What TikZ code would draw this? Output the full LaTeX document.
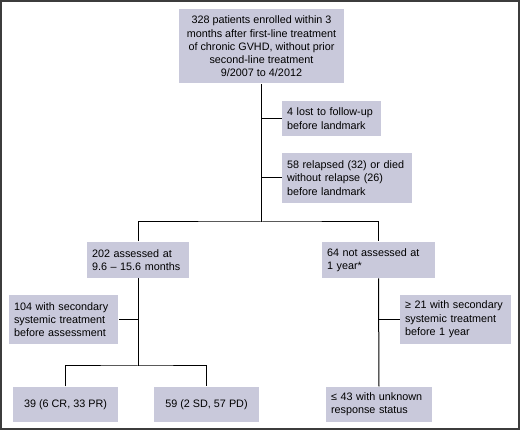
\documentclass[tikz,border=0pt]{standalone}
\usepackage{fontspec}
\setmainfont{Liberation Sans}
\usetikzlibrary{positioning,calc}
\definecolor{boxfill}{RGB}{201,201,219}
\definecolor{framegray}{RGB}{60,60,60}

\begin{document}
\begin{tikzpicture}[x=1pt, y=-1pt, line width=1pt,
  box/.style={fill=boxfill, inner xsep=5pt, inner ysep=3pt, font=\fontsize{10.8}{13.3}\selectfont}]
  \useasboundingbox (0,0) rectangle (520,430);
  \draw[framegray, line width=2pt] (1,1) rectangle (519,429);

  \node[box, minimum width=165pt, minimum height=74pt, align=center] (enrolled) at (261.5,46.5)
    {328 patients enrolled within 3\\months after first-line treatment\\of chronic GVHD, without prior\\second-line treatment\\9/2007 to 4/2012};
  \node[box, minimum height=35pt, text width=89pt, align=left] (lost) at (331.5,118.5)
    {4 lost to follow-up\\before landmark};
  \node[box, minimum height=50pt, text width=120pt, align=left] (relapsed) at (347,178)
    {58 relapsed (32) or died\\without relapse (26)\\before landmark};

  \node[box, minimum height=36pt, text width=92pt, align=left] (assessed) at (138,260)
    {202 assessed at\\9.6 -- 15.6 months};
  \node[box, minimum height=36pt, text width=103pt, align=left] (notassessed) at (378.5,260)
    {64 not assessed at\\1 year*};

  \node[box, minimum height=49pt, text width=99pt, align=left] (secleft) at (63.5,319.5)
    {104 with secondary\\systemic treatment\\before assessment};
  \node[box, minimum height=49pt, text width=101pt, align=left] (secright) at (455.5,319.5)
    {≥ 21 with secondary\\systemic treatment\\before 1 year};

  \node[box, minimum height=35pt, minimum width=105pt, align=center] (response) at (65.5,404.5)
    {39 (6 CR, 33 PR)};
  \node[box, minimum height=35pt, minimum width=105pt, align=center] (noresponse) at (206.5,404.5)
    {59 (2 SD, 57 PD)};
  \node[box, minimum height=35pt, text width=96pt, align=left] (unknown) at (379,404.5)
    {≤ 43 with unknown\\response status};

  \coordinate (split) at (enrolled.south |- 0,222);
  \coordinate (splitleft) at (assessed.south |- 0,366);

  % main trunk
  \draw (enrolled.south) -- (split);
  \draw (lost.west -| enrolled.south) -- (lost.west);
  \draw (relapsed.west -| enrolled.south) -- (relapsed.west);
  \draw (assessed.north) |- (split) -| (notassessed.north);

  % left arm
  \draw (assessed.south) -- (splitleft);
  \draw (secleft.east) -- (secleft.east -| assessed.south);
  \draw (response.north) |- (splitleft) -| (noresponse.north);

  % right arm
  \draw (notassessed.south) -- (unknown.north);
  \draw (secright.west) -- (secright.west -| notassessed.south);
\end{tikzpicture}
\end{document}
